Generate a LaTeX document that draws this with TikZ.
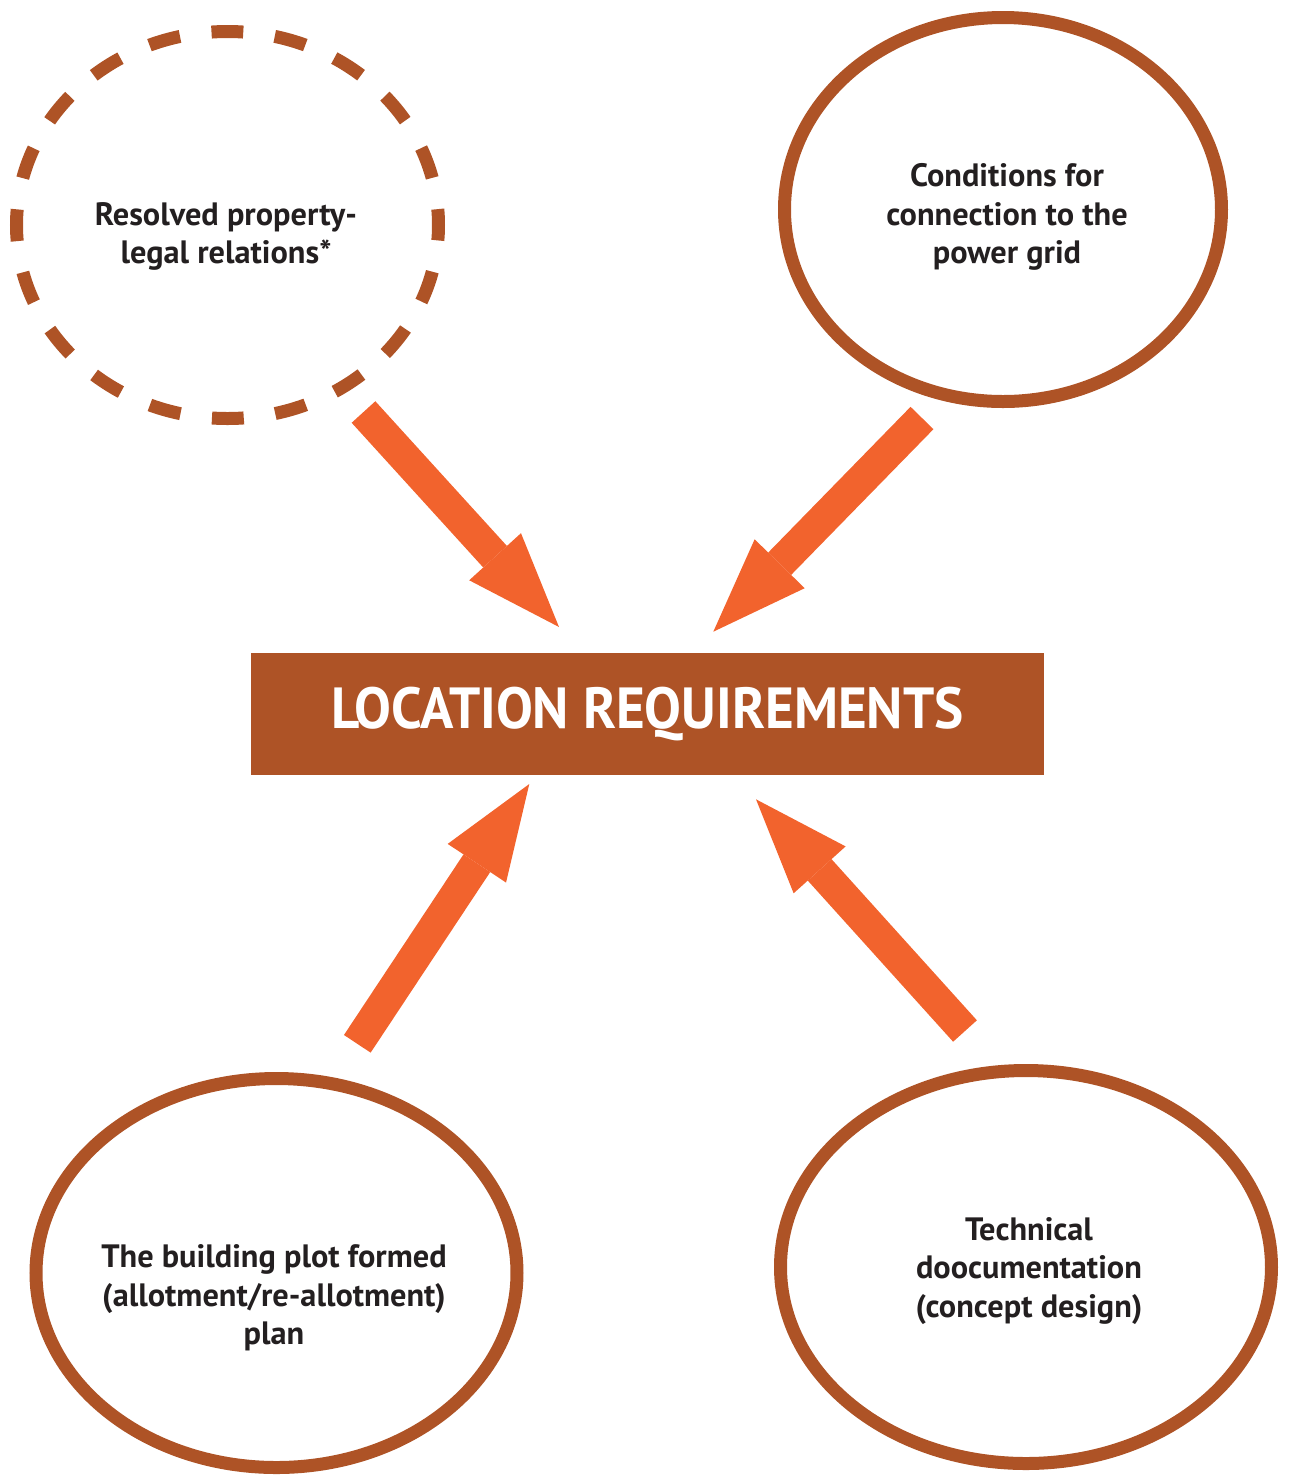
\documentclass[tikz,border=0pt]{standalone}
\usepackage{fontspec}
\setmainfont{PT Sans}
\newfontfamily\titlefont{PT Sans}[FakeStretch=0.95]
\usepackage{tikz}
\usetikzlibrary{positioning,arrows.meta,shapes.geometric}
\definecolor{rust}{HTML}{AE5326}
\definecolor{flame}{HTML}{F2632D}
\definecolor{ink}{HTML}{231F20}

\begin{document}
\begin{tikzpicture}[
    every node/.style={font=\bfseries},
    bubble/.style={draw=rust, line width=1.3mm, ellipse, inner sep=0pt,
                   outer sep=0pt},
    dashbubble/.style={bubble, dash pattern=on 3.18mm off 3.18mm,
                       dash phase=1.59mm},
    bubtext/.style={text=ink, align=center,
                    font=\fontsize{9.2}{10.96}\selectfont\bfseries},
    req/.style={fill=rust, minimum width=7.93cm, minimum height=1.22cm,
                text=white, inner sep=0pt,
                font=\titlefont\fontsize{16.5}{19}\selectfont\bfseries},
    bigarr/.style={draw=flame, line width=3.2mm,
                   -{Triangle[length=9.5mm,width=7mm,line width=0pt]}}]
  \useasboundingbox (0,0) rectangle (12.89,-14.77);

  % the four inputs
  \node[dashbubble, minimum width=4.22cm, minimum height=3.87cm] (legal) at (2.275,-2.25) {};
  \node[bubble, minimum width=4.37cm, minimum height=3.84cm] (grid) at (10.03,-2.095) {};
  \node[bubble, minimum width=4.81cm, minimum height=3.89cm] (plot) at (2.765,-12.73) {};
  \node[bubble, minimum width=4.91cm, minimum height=3.93cm] (docs) at (10.26,-12.67) {};

  \node[bubtext] (legaltxt) at (2.26,-2.365) {Resolved property-\\legal relations*};
  \node[bubtext] (gridtxt) at (10.07,-2.17) {Conditions for\\connection to the\\power grid};
  \node[bubtext] (plottxt) at (2.74,-12.98) {The building plot formed\\(allotment/re-allotment)\\plan};
  \node[bubtext] (docstxt) at (10.29,-12.71) {Technical\\doocumentation\\(concept design)};

  % centre box
  \node[req] (loc) at (6.475,-7.14) {LOCATION REQUIREMENTS};

  % arrow ends
  \coordinate (legal-out) at (3.635,-4.12);
  \coordinate (grid-out)  at (9.22,-4.18);
  \coordinate (plot-out)  at (3.573,-10.438);
  \coordinate (docs-out)  at (9.65,-10.31);
  \coordinate (loc-nw) at (5.59,-6.27);
  \coordinate (loc-ne) at (7.133,-6.317);
  \coordinate (loc-sw) at (5.293,-7.84);
  \coordinate (loc-se) at (7.56,-7.993);

  \draw[bigarr] (legal-out) -- (loc-nw);
  \draw[bigarr] (grid-out) -- (loc-ne);
  \draw[bigarr] (plot-out) -- (loc-sw);
  \draw[bigarr] (docs-out) -- (loc-se);
\end{tikzpicture}
\end{document}
